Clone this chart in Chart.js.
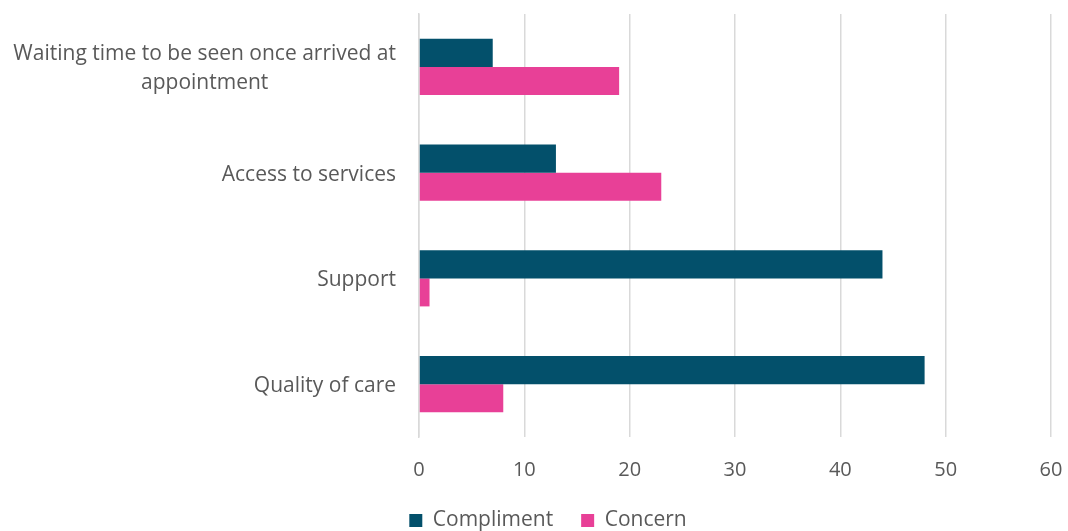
<!DOCTYPE html>
<html>
<head>
<meta charset="utf-8">
<script src="https://cdn.jsdelivr.net/npm/chart.js@4/dist/chart.umd.min.js"></script>
<style>
  html, body { margin: 0; padding: 0; background: #fff; }
  #wrap { width: 1068px; height: 531px; position: relative; }
</style>
</head>
<body>
<div id="wrap"><canvas id="chart"></canvas></div>
<script>
const categories = [
    ['Waiting time to be seen once arrived at', 'appointment'],
    ['Access to services'],
    ['Support'],
    ['Quality of care']
];
const complimentValues = [7, 13, 44, 48];
const concernValues = [19, 23, 1, 8];
const xTicks = [0, 10, 20, 30, 40, 50, 60];

const textColor = '#595959';
const fontFamily = '"Open Sans", "Liberation Sans", sans-serif';

// draws the category labels, second line centred under the first like the original
const categoryLabels = {
    id: 'categoryLabels',
    beforeLayout(chart) {
        // legend padding also sets the gap between items; keep its box short
        const lg = chart.legend;
        if (lg && !lg._shortFit) {
            const fit = lg.fit.bind(lg);
            lg.fit = function() { fit(); this.height = 51; };
            lg._shortFit = true;
        }
    },
    afterLayout(chart) {
        // original legend sits a little right of the page centre
        if (chart.legend) {
            chart.legend.left += 15;
            chart.legend.right += 15;
        }
    },
    afterDraw(chart) {
        const ctx = chart.ctx;
        const yScale = chart.scales.y;
        const right = chart.chartArea.left - 23;
        ctx.save();
        ctx.font = '21px ' + fontFamily;
        ctx.fillStyle = textColor;
        ctx.textAlign = 'center';
        ctx.textBaseline = 'middle';
        const lineHeight = 29;
        categories.forEach(function(lines, i) {
            const yc = yScale.getPixelForValue(i) + 2;
            const maxW = Math.max.apply(null, lines.map(l => ctx.measureText(l).width));
            const cx = right - maxW / 2;
            const top = yc - (lines.length - 1) * lineHeight / 2;
            lines.forEach(function(line, j) {
                ctx.fillText(line, cx, top + j * lineHeight);
            });
        });
        ctx.restore();
    }
};

new Chart(document.getElementById('chart'), {
    type: 'bar',
    data: {
        labels: categories.map(c => c.join(' ')),
        datasets: [{
            label: 'Compliment',
            data: complimentValues,
            backgroundColor: '#03506B',
            borderWidth: 0,
            categoryPercentage: 0.53,
            barPercentage: 1.0
        }, {
            label: 'Concern',
            data: concernValues,
            backgroundColor: '#E84097',
            borderWidth: 0,
            categoryPercentage: 0.53,
            barPercentage: 1.0
        }]
    },
    options: {
        indexAxis: 'y',
        responsive: true,
        maintainAspectRatio: false,
        animation: false,
        layout: { padding: { top: 14, right: 2, left: 0, bottom: -2 } },
        plugins: {
            legend: {
                position: 'bottom',
                labels: {
                    color: textColor,
                    font: { size: 21, family: fontFamily },
                    boxWidth: 13,
                    boxHeight: 13,
                    padding: 28
                }
            },
            tooltip: { enabled: false }
        },
        scales: {
            x: {
                min: xTicks[0],
                max: xTicks[xTicks.length - 1],
                afterBuildTicks: function(scale) {
                    scale.ticks = xTicks.map(v => ({ value: v }));
                },
                afterFit: function(scale) {
                    scale.height = 45;
                    scale.paddingRight = 17;
                    scale.paddingLeft = 0;
                },
                grid: { color: '#d9d9d9', lineWidth: 1.5, drawTicks: false },
                border: { display: false },
                ticks: {
                    color: textColor,
                    font: { size: 20, family: fontFamily },
                    padding: 21
                }
            },
            y: {
                grid: { display: false },
                border: { display: true, color: '#d9d9d9', width: 1.5 },
                ticks: { display: false },
                afterFit: function(scale) { scale.width = 419; }
            }
        }
    },
    plugins: [categoryLabels]
});
</script>
</body>
</html>
